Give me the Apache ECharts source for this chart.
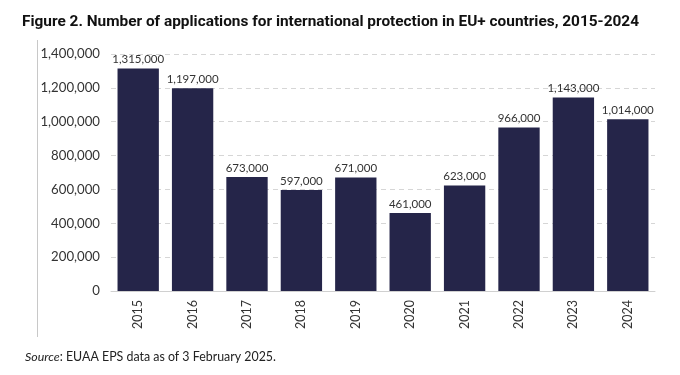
<!DOCTYPE html>
<html>
<head>
<meta charset="utf-8">
<script src="https://cdn.jsdelivr.net/npm/echarts@6/dist/echarts.min.js"></script>
<style>
  html, body { margin: 0; padding: 0; background: #fff; }
  #chart { width: 680px; height: 375px; }
</style>
</head>
<body>
<div id="chart"></div>
<script>
  const years = ['2015', '2016', '2017', '2018', '2019', '2020', '2021', '2022', '2023', '2024']
  const applications = [1315000, 1197000, 673000, 597000, 671000, 461000, 623000, 966000, 1143000, 1014000]

  const fmt = v => v.toLocaleString('en-US')
  const textColor = '#333'

  const chart = echarts.init(document.getElementById('chart'))

  const option = {
    animation: false,
    title: [
      {
        text: 'Figure 2. Number of applications for international protection in EU+ countries, 2015-2024',
        left: 17,
        top: 10,
        textStyle: { fontFamily: 'Roboto', fontWeight: 'bold', fontSize: 15.4, color: '#111' }
      },
      {
        text: '{i|Source}: EUAA EPS data as of 3 February 2025.',
        left: 20,
        top: 346,
        textStyle: {
          fontFamily: 'Lato', fontWeight: 'normal', fontSize: 12.4, color: '#222',
          rich: { i: { fontFamily: 'Lato', fontStyle: 'italic', fontWeight: 'normal', fontSize: 12.4, color: '#222' } }
        }
      }
    ],
    graphic: [
      {
        type: 'line',
        shape: { x1: 37.5, y1: 40, x2: 37.5, y2: 337 },
        style: { stroke: '#c8c8c8', lineWidth: 1 }
      }
    ],
    grid: { left: 111, right: 25, top: 54, bottom: 84 },
    xAxis: {
      type: 'category',
      data: years,
      axisTick: { show: false },
      axisLine: { lineStyle: { color: '#d0d0d0', width: 1 } },
      axisLabel: {
        rotate: 90,
        margin: 9,
        fontFamily: 'Lato',
        fontSize: 12.5,
        color: textColor
      }
    },
    yAxis: {
      type: 'value',
      min: 0,
      max: 1400000,
      interval: 200000,
      axisLine: { show: false },
      axisTick: { show: false },
      axisLabel: {
        formatter: v => fmt(v),
        margin: 11,
        fontFamily: 'Lato',
        fontSize: 13.2,
        color: textColor
      },
      splitLine: {
        lineStyle: { color: '#d6d6d6', type: [5, 4], width: 1 }
      }
    },
    series: [
      {
        type: 'bar',
        data: applications,
        barWidth: '76%',
        itemStyle: { color: '#252549' },
        label: {
          show: true,
          position: 'top',
          distance: 3,
          formatter: p => fmt(p.value),
          fontFamily: 'Lato',
          fontSize: 11.5,
          color: textColor
        }
      }
    ]
  }

  chart.setOption(option)
</script>
</body>
</html>
